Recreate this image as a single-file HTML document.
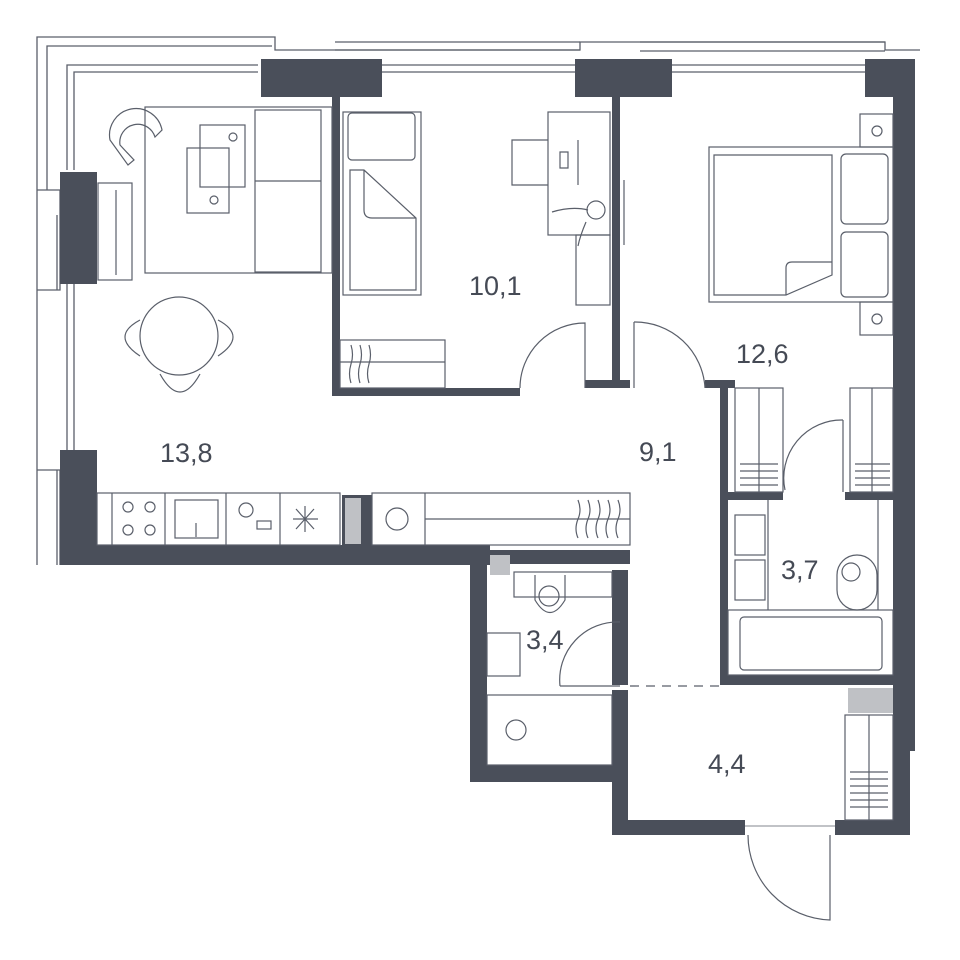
<!DOCTYPE html>
<html><head><meta charset="utf-8"><style>
html,body{margin:0;padding:0;background:#fff;width:960px;height:960px;overflow:hidden}
text{font-family:"Liberation Sans",sans-serif;fill:#454a55}
</style></head><body>
<svg width="960" height="960" viewBox="0 0 960 960" xmlns="http://www.w3.org/2000/svg">
<g fill="none" stroke="#5a5f6a" stroke-width="1.3">
<path d="M37 565 V37 H275 V50 H580 V42 H637 V42 H885 V50 H920"/>
<path d="M47 190 V46 H272"/>
<path d="M57 565 V470 M57 290 V215"/>
<path d="M67 170 V65 H258"/>
<path d="M74 170 V72 H258"/>
<path d="M67 270 V450 M74 270 V450"/>
<path d="M335 42 H580 M335 50 H580 M640 42 H885 M640 51 H885"/>
<path d="M300 65 H575 M300 72 H575 M672 65 H870 M672 72 H870"/>
<path d="M37 190 H60 V290 H37"/>
<path d="M37 470 H60 V565"/>
</g>
<g fill="#4a4f5a">
<rect x="261" y="59" width="121" height="38"/>
<rect x="575" y="59" width="97" height="38"/>
<rect x="865" y="59" width="50" height="38"/>
<rect x="893" y="59" width="22" height="692"/>
<rect x="893" y="740" width="17" height="95"/>
<rect x="60" y="172" width="37" height="112"/>
<rect x="60" y="450" width="37" height="115"/>
<rect x="60" y="545" width="430" height="20"/>
<rect x="470" y="550" width="160" height="14"/>
<rect x="470" y="550" width="17" height="232"/>
<rect x="470" y="765" width="158" height="17"/>
<rect x="612" y="570" width="16" height="115"/>
<rect x="612" y="690" width="16" height="145"/>
<rect x="612" y="820" width="133" height="15"/>
<rect x="835" y="820" width="75" height="15"/>
<rect x="332" y="97" width="8" height="298"/>
<rect x="332" y="388" width="188" height="8"/>
<rect x="585" y="380" width="45" height="8"/>
<rect x="612" y="97" width="8" height="288"/>
<rect x="705" y="380" width="30" height="8"/>
<rect x="720" y="380" width="8" height="305"/>
<rect x="720" y="675" width="180" height="10"/>
<rect x="728" y="492" width="55" height="8"/>
<rect x="845" y="492" width="50" height="8"/>
<rect x="342" y="495" width="30" height="55"/>
</g>
<rect x="345" y="498" width="16" height="46" fill="#bfc1c5"/>
<rect x="490" y="555" width="20" height="20" fill="#bfc1c5"/>
<rect x="848" y="688" width="45" height="25" fill="#bfc1c5"/>
<g fill="none" stroke="#5a5f6a" stroke-width="1.2">
<rect x="97" y="493" width="243" height="52"/>
<line x1="112" y1="493" x2="112" y2="545"/><line x1="165" y1="493" x2="165" y2="545"/><line x1="226" y1="493" x2="226" y2="545"/><line x1="280" y1="493" x2="280" y2="545"/>
<circle cx="128" cy="507" r="5"/><circle cx="150" cy="507" r="5"/><circle cx="128" cy="530" r="5"/><circle cx="150" cy="530" r="5"/>
<rect x="175" y="500" width="43" height="38"/><line x1="196" y1="523" x2="196" y2="537"/>
<circle cx="246" cy="510" r="7"/><rect x="257" y="521" width="14" height="8"/>
<path d="M293 519 H318 M305 506 V532 M296 509 L314 529 M314 509 L296 529"/>
<rect x="372" y="493" width="258" height="52"/><line x1="425" y1="493" x2="425" y2="545"/><line x1="425" y1="519" x2="630" y2="519"/>
<circle cx="397" cy="519" r="11"/>
<path d="M578 500 q4 10 0 19 q-4 10 0 19 M588 500 q4 10 0 19 q-4 10 0 19 M598 500 q4 10 0 19 q-4 10 0 19 M608 500 q4 10 0 19 q-4 10 0 19 M618 500 q4 10 0 19 q-4 10 0 19"/>
<rect x="98" y="183" width="34" height="97"/><line x1="116" y1="190" x2="116" y2="275"/>
<rect x="145" y="107" width="187" height="166"/>
<rect x="255" y="110" width="66" height="162"/><line x1="255" y1="181" x2="321" y2="181"/>
<rect x="200" y="125" width="45" height="62"/><rect x="187" y="148" width="42" height="65"/>
<circle cx="233" cy="137" r="4"/><circle cx="214" cy="200" r="4"/>
<path d="M110 140 A25 25 0 0 1 162 130 L155 137 A18 18 0 0 0 120 145 L134 160 L128 165 Z"/>
<circle cx="179" cy="336" r="39"/>
<path d="M140 320 q-30 16 0 36 M218 320 q30 16 0 36 M160 374 q20 36 40 0"/>
<rect x="343" y="112" width="78" height="183"/><rect x="348" y="113" width="67" height="47" rx="4"/>
<path d="M350 170 H364 L416 218 V290 H350 Z M364 170 V210 Q364 218 372 218 H416"/>
<rect x="340" y="340" width="105" height="48"/><line x1="340" y1="362" x2="445" y2="362"/>
<path d="M351 345 q3 10 0 19 q-3 10 0 19 M360 345 q3 10 0 19 q-3 10 0 19 M369 345 q3 10 0 19 q-3 10 0 19"/>
<rect x="548" y="112" width="62" height="123"/><rect x="576" y="235" width="34" height="70"/>
<path d="M548 140 H512 V185 H548 M560 152 V168 H568 V152 Z M578 140 V185"/>
<circle cx="596" cy="210" r="9"/><path d="M552 212 q20 -6 36 -2 M586 222 q-6 14 -8 24"/>
<path d="M520 388 A65 65 0 0 1 585 323 V388"/>
<path d="M634 322 A70 70 0 0 1 705 388 M634 322 V388"/>
<line x1="624" y1="180" x2="624" y2="245"/>
<rect x="709" y="147" width="184" height="155"/>
<path d="M714 155 H832 V275 L786 295 H714 Z"/>
<path d="M786 295 V268 Q786 262 792 262 H832"/>
<rect x="841" y="154" width="47" height="70" rx="5"/><rect x="841" y="232" width="47" height="65" rx="5"/>
<rect x="860" y="114" width="33" height="33"/><circle cx="877" cy="131" r="5"/>
<rect x="860" y="302" width="33" height="33"/><circle cx="877" cy="319" r="5"/>
<rect x="735" y="388" width="48" height="104"/><line x1="759" y1="388" x2="759" y2="492"/>
<rect x="850" y="388" width="43" height="104"/><line x1="872" y1="388" x2="872" y2="492"/>
<path d="M740 464 H778 M740 471 H778 M740 478 H778 M740 485 H778 M855 464 H890 M855 471 H890 M855 478 H890 M855 485 H890"/>
<path d="M843 420 A58 58 0 0 0 785 490 M843 420 V492"/>
<rect x="735" y="515" width="30" height="40"/><rect x="735" y="560" width="30" height="40"/>
<line x1="768" y1="500" x2="768" y2="610"/><rect x="728" y="610" width="165" height="65"/>
<rect x="740" y="617" width="142" height="53" rx="4"/>
<rect x="837" y="555" width="40" height="55" rx="20"/><circle cx="851" cy="572" r="9"/>
<line x1="878" y1="500" x2="878" y2="610"/>
<rect x="514" y="572" width="98" height="25"/>
<path d="M535 575 V600 Q550 625 565 600 V575"/><circle cx="549" cy="596" r="10"/>
<rect x="487" y="633" width="33" height="43"/>
<rect x="487" y="695" width="125" height="70"/><circle cx="516" cy="730" r="10"/>
<path d="M560 686 A58 58 0 0 1 620 622 M560 686 H620"/>
<rect x="845" y="715" width="48" height="105"/><line x1="869" y1="715" x2="869" y2="820"/>
<path d="M850 772 H888 M850 779 H888 M850 786 H888 M850 793 H888 M850 800 H888 M850 807 H888"/>
<path d="M748 835 A85 85 0 0 0 830 920 V835"/>
<line x1="745" y1="826" x2="835" y2="826" stroke-width="0.8"/>
</g>
<line x1="630" y1="686" x2="720" y2="686" stroke="#5a5f6a" stroke-width="1.3" stroke-dasharray="9 7"/>
<g font-size="27">
<text x="160" y="462">13,8</text>
<text x="469" y="295">10,1</text>
<text x="736" y="363">12,6</text>
<text x="639" y="461">9,1</text>
<text x="781" y="579">3,7</text>
<text x="526" y="649">3,4</text>
<text x="708" y="773">4,4</text>
</g>
</svg>
</body></html>
